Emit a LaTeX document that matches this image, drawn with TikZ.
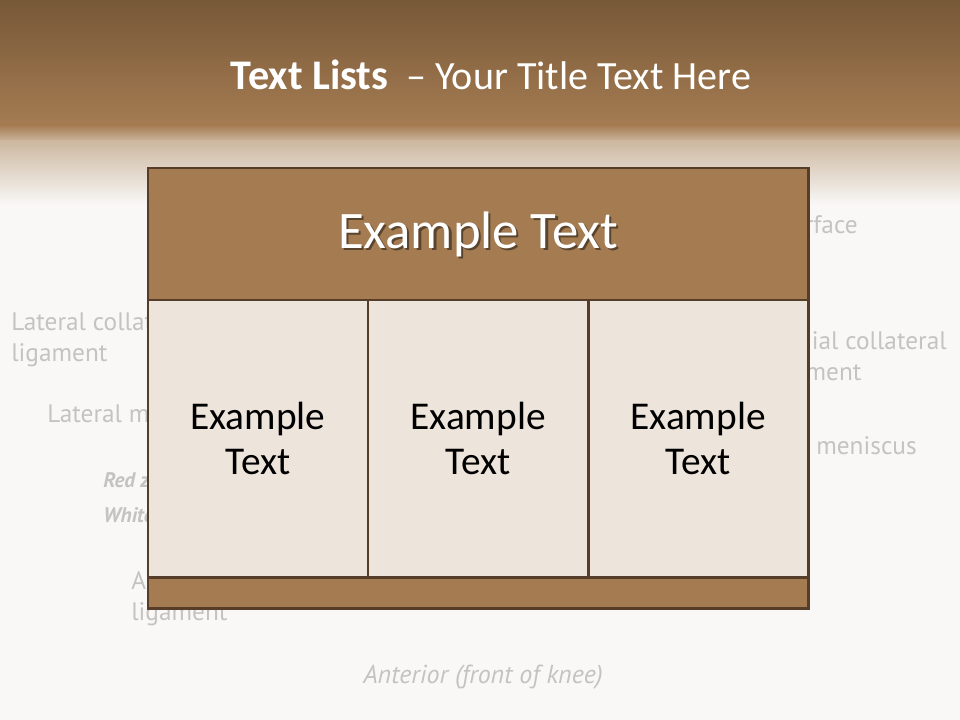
\documentclass[tikz,border=0pt]{standalone}
\usepackage{fontspec}
\setmainfont{Carlito}
\newfontfamily\faintfont{PT Sans}
\usetikzlibrary{positioning}
\definecolor{bandDark}{HTML}{775838}
\definecolor{bandBrown}{HTML}{A57C52}
\definecolor{bandFade}{HTML}{CDB8A0}
\definecolor{pageWhite}{HTML}{F9F8F7}
\definecolor{edgeBrown}{HTML}{563D2A}
\definecolor{cellCream}{HTML}{EDE4DC}
\definecolor{faintGray}{HTML}{C5C3C1}
\begin{document}
\begin{tikzpicture}[x=0.025cm, y=-0.025cm,
      faint/.style={text=faintGray, font=\faintfont\fontsize{18}{22}\selectfont, inner sep=0pt},
      zone/.style={faint, font=\faintfont\fontsize{15}{18}\selectfont\bfseries\itshape},
      headbox/.style={draw=edgeBrown, line width=2pt, fill=bandBrown, minimum width=16.5cm, minimum height=3.3cm, outer sep=0pt},
      cellbox/.style={draw=edgeBrown, line width=2pt, fill=cellCream, minimum width=5.5cm, minimum height=6.925cm, outer sep=0pt,
        align=center, font=\fontsize{28}{32}\selectfont},
      footbox/.style={draw=edgeBrown, line width=2pt, fill=bandBrown, minimum width=16.5cm, minimum height=0.775cm, outer sep=0pt}]
    % ---- page and title band
    \fill[pageWhite] (0,0) rectangle (960,720);
    \shade[top color=bandDark, bottom color=bandBrown] (0,0) rectangle (960,126);
    \shade[top color=bandBrown, bottom color=bandFade] (0,125) rectangle (960,142);
    \shade[top color=bandFade, bottom color=pageWhite] (0,141) rectangle (960,205);
    \node[text=white, font=\fontsize{28.5}{32}\selectfont] (title) at (491,75)
      {{\fontsize{30}{32}\selectfont\bfseries Text Lists}\ \ – Your Title Text Here};
    % ---- faint labels behind the table
    \node[faint, anchor=base west] (latcol) at (11,331) {Lateral collateral};
    \node[faint, anchor=base west] (latlig) at (11,362) {ligament};
    \node[faint, anchor=base west] (latmen) at (47,423) {Lateral meniscus};
    \node[zone, anchor=base west] (redz) at (103,488) {Red zone};
    \node[zone, anchor=base west] (whitez) at (103,523) {White zone};
    \node[faint, anchor=base west] (antcr) at (131,589) {Anterior cruciate};
    \node[faint, anchor=base west] (antlig) at (131,620) {ligament};
    \node[faint, anchor=base east] (surf) at (858,234) {Articular surface};
    \node[faint, anchor=base east] (medcol) at (947,350) {Medial collateral};
    \node[faint, anchor=base west] (medlig) at (medcol.base west) [yshift=-22pt] {ligament};
    \node[faint, anchor=base east] (medmen) at (917,455) {Medial meniscus};
    \node[faint, font=\faintfont\fontsize{18.5}{22}\selectfont\itshape, anchor=base] (front) at (483,683) {Anterior (front of knee)};
    % ---- table
    \node[headbox, anchor=north west] (head) at (148,168) {};
    \node[text=black, opacity=0.45, font=\fontsize{37.5}{40}\selectfont] (headshade) at ([xshift=1.5pt, yshift=-1.5pt]head.center) {Example Text};
    \node[text=white, font=\fontsize{37.5}{40}\selectfont] (headtext) at (head.center) {Example Text};
    \node[cellbox, anchor=north west] (c1) at (head.south west) {Example\\Text};
    \node[cellbox, right=0pt of c1] (c2) {Example\\Text};
    \node[cellbox, right=0pt of c2] (c3) {Example\\Text};
    \node[footbox, anchor=north west] (foot) at (c1.south west) {};
\end{tikzpicture}
\end{document}
